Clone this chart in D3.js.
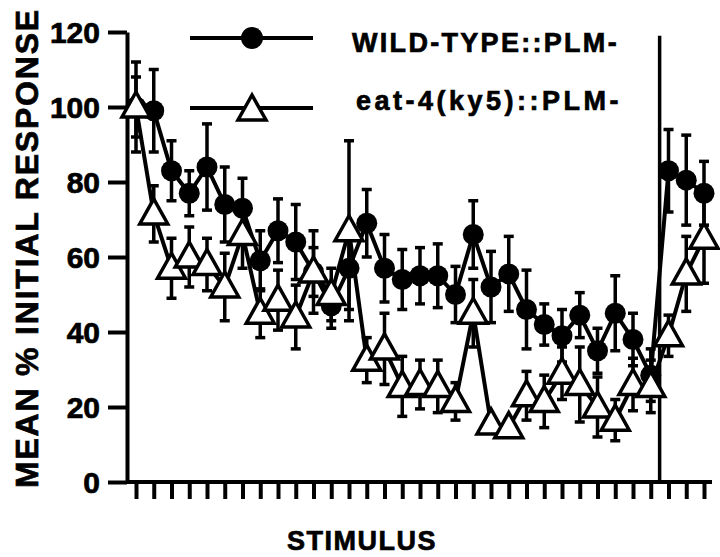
<!DOCTYPE html>
<html lang="en">
<head>
    <meta charset="UTF-8">
    <title>Mean % initial response per stimulus</title>
    <script src="https://d3js.org/d3.v7.min.js"></script>
    <style>
        body { margin: 0; background: #fff; }
        text {
            font-family: "Liberation Sans", Arial, Helvetica, sans-serif;
            font-weight: bold;
            fill: #000;
            stroke: #000;
            stroke-width: 0.7px;
        }
        .axis path, .axis line {
            stroke: #000;
            stroke-width: 4px;
        }
    </style>
</head>
<body>
<script>
    // stimulus index 0..32 (30 training taps, break, 3 test taps)
    const stimuli = d3.range(33);

    const wildType = [100, 99, 83, 77, 84, 74, 73, 59, 67, 64, 56, 47, 57, 69, 57, 54, 55, 55, 50, 66,
        52, 55.5, 46, 42, 39, 44.5, 35, 45, 38, 28.5, 83, 80.5, 77];
    const wildTypeErr = [12, 11, 8, 6, 11.5, 10, 8, 8, 8.5, 10, 11, 6, 11, 9, 9, 8, 7.5, 8.5, 7.5, 9,
        9.5, 10, 10.5, 5.5, 7, 6, 6, 10, 7, 7, 11, 12, 8.5];

    const eat4 = [100, 71.5, 57, 60, 58, 52, 66, 45, 48.5, 44, 56, 50, 67, 32.5, 35.5, 25.5, 26, 25.5, 21.5, 45,
        15.5, 14.5, 23, 21.5, 29, 26, 20, 16.5, 26, 25.5, 39, 55.5, 65];
    const eat4Err = [8, 7.5, 8, 8, 7, 9, 9, 6.5, 8, 8.5, 6.5, 7, 24, 6, 9.5, 8, 6.5, 7, 5, 9,
        2, 2, 6.5, 7, 7, 10, 8, 5.5, 7, 7, 5.5, 10, 12];

    const yTicks = [0, 20, 40, 60, 80, 100, 120];
    const breakAt = 29.5;

    const width = 720;
    const height = 557;

    const svg = d3.select('body').append('svg')
        .attr('width', width)
        .attr('height', height);

    const x = d3.scaleLinear().domain([0, 32]).range([136, 704]);
    const y = d3.scaleLinear().domain([0, 120]).range([482, 32]);
    const axisX = 127;

    // y axis
    svg.append('g')
        .attr('class', 'axis')
        .attr('transform', `translate(${axisX},0)`)
        .call(d3.axisLeft(y).tickValues(yTicks).tickSize(19).tickSizeOuter(0).tickPadding(8))
        .call(g => g.selectAll('text').style('font-size', '30px').attr('dy', '0.36em'));

    // x axis
    const xAxis = svg.append('g')
        .attr('class', 'axis')
        .attr('transform', `translate(0,${y(0)})`)
        .call(d3.axisBottom(x).tickValues(stimuli).tickSize(17).tickSizeOuter(0).tickFormat(''));
    xAxis.select('.domain').attr('d', `M${axisX},0H712`);

    // break between training and test
    svg.append('line')
        .attr('x1', x(breakAt)).attr('x2', x(breakAt))
        .attr('y1', y(119)).attr('y2', y(0))
        .attr('stroke', '#000').attr('stroke-width', 3.5);

    // axis titles
    svg.append('text')
        .attr('transform', `translate(38,248) rotate(-90)`)
        .attr('text-anchor', 'middle')
        .style('font-size', '32px')
        .style('letter-spacing', '1.8px')
        .text('MEAN % INITIAL RESPONSE');

    svg.append('text')
        .attr('x', 362).attr('y', 550)
        .attr('text-anchor', 'middle')
        .style('font-size', '27px')
        .style('letter-spacing', '1.5px')
        .text('STIMULUS');

    const series = [
        { name: 'wild', values: wildType, err: wildTypeErr },
        { name: 'eat4', values: eat4, err: eat4Err }
    ];

    // error bars
    series.forEach(s => {
        const g = svg.append('g').attr('stroke', '#000').attr('stroke-width', 3.5);
        stimuli.forEach(i => {
            const v = s.values[i], e = s.err[i];
            g.append('line').attr('x1', x(i)).attr('x2', x(i)).attr('y1', y(v - e)).attr('y2', y(v + e));
            g.append('line').attr('x1', x(i) - 5).attr('x2', x(i) + 5).attr('y1', y(v - e)).attr('y2', y(v - e));
            g.append('line').attr('x1', x(i) - 5).attr('x2', x(i) + 5).attr('y1', y(v + e)).attr('y2', y(v + e));
        });
    });

    // connecting lines
    const line = d3.line().x(d => x(d[0])).y(d => y(d[1]));
    series.forEach(s => {
        svg.append('path')
            .datum(stimuli.map(i => [i, s.values[i]]))
            .attr('d', line)
            .attr('fill', 'none')
            .attr('stroke', '#000')
            .attr('stroke-width', 4);
    });

    const triangle = 'M0,-15L14,10L-14,10Z';

    // markers
    svg.append('g').selectAll('circle')
        .data(stimuli)
        .enter().append('circle')
        .attr('cx', i => x(i))
        .attr('cy', i => y(wildType[i]))
        .attr('r', 10.5)
        .attr('fill', '#000');

    svg.append('g').selectAll('path')
        .data(stimuli)
        .enter().append('path')
        .attr('d', triangle)
        .attr('transform', i => `translate(${x(i)},${y(eat4[i])})`)
        .attr('fill', '#fff')
        .attr('stroke', '#000')
        .attr('stroke-width', 3.5)
        .attr('stroke-linejoin', 'miter');

    // legend
    const legend = svg.append('g');
    legend.append('line').attr('x1', 190).attr('x2', 313).attr('y1', 38).attr('y2', 38)
        .attr('stroke', '#000').attr('stroke-width', 4);
    legend.append('circle').attr('cx', 252).attr('cy', 38).attr('r', 11).attr('fill', '#000');
    legend.append('text').attr('x', 352).attr('y', 52)
        .style('font-size', '27px').style('letter-spacing', '2.3px')
        .text('WILD-TYPE::PLM-');

    legend.append('line').attr('x1', 190).attr('x2', 313).attr('y1', 108).attr('y2', 108)
        .attr('stroke', '#000').attr('stroke-width', 4);
    legend.append('path').attr('d', triangle)
        .attr('transform', 'translate(252,110)')
        .attr('fill', '#fff').attr('stroke', '#000').attr('stroke-width', 3.5);
    legend.append('text').attr('x', 356).attr('y', 110)
        .style('font-size', '27px').style('letter-spacing', '3.5px')
        .text('eat-4(ky5)::PLM-');
</script>
</body>
</html>
